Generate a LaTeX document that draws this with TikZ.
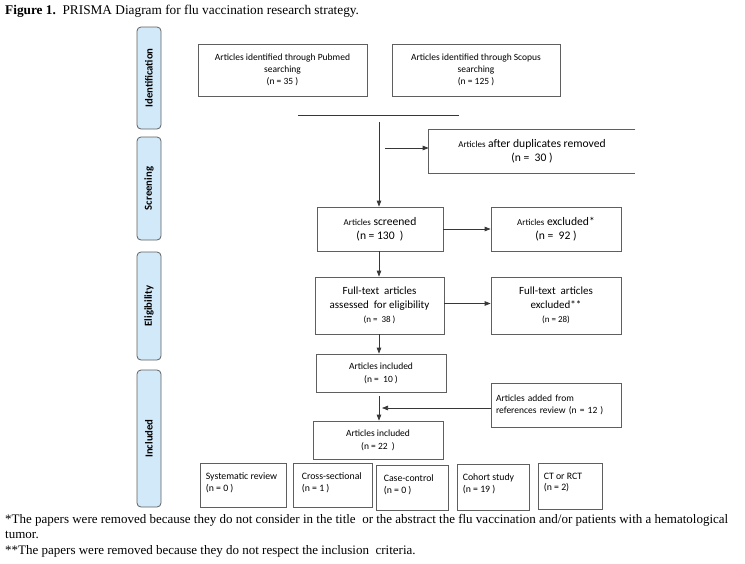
\documentclass[tikz,border=0pt]{standalone}
\usepackage{fontspec}
\setmainfont{Liberation Serif}
\newfontfamily\carlito{Carlito}
\usetikzlibrary{arrows.meta,calc}
\definecolor{stagefill}{RGB}{210,233,250}
\definecolor{stagedraw}{RGB}{95,95,95}
\definecolor{linegray}{RGB}{55,55,55}
\definecolor{boxgray}{RGB}{95,95,95}
\newcommand\lgtxt{\fontsize{11.6}{14}\selectfont}
\newcommand\smtxt{\fontsize{9}{12}\selectfont}
\begin{document}
\begin{tikzpicture}[x=1pt,y=-1pt,
  box/.style={draw=boxgray, line width=0.75pt, align=center, inner sep=2pt, font=\carlito\fontsize{9.5}{12}\selectfont},
  stage/.style={draw=stagedraw, line width=0.8pt, fill=stagefill, rounded corners=4pt, rotate=90, minimum height=24pt, inner sep=0pt, font=\carlito\bfseries\fontsize{10.7}{12}\selectfont},
  flow/.style={draw=linegray, line width=0.75pt, -{Triangle[length=6pt,width=4.5pt]}},
  plain/.style={draw=linegray, line width=0.75pt},
  small/.style={draw=boxgray, line width=0.75pt, label distance=0pt},
  inlab/.style={anchor=north west, align=left, inner sep=0pt, xshift=6pt, yshift=-10pt, font=\carlito\fontsize{9.8}{11.5}\selectfont}
]
\useasboundingbox (0,0) rectangle (745,563);

% title
\node[anchor=north west, inner sep=0pt, font=\fontsize{13.3}{15}\selectfont] (title) at (5,5)
  {\textbf{Figure 1.}\ \ PRISMA Diagram for flu vaccination research strategy.};

% stage labels
\node[stage, minimum width=102pt] (sid) at (149,78) {Identification};
\node[stage, minimum width=103pt] (ssc) at (149,188.5) {Screening};
\node[stage, minimum width=108pt] (sel) at (149,306) {Eligibility};
\node[stage, minimum width=137pt] (sin) at (149,438.5) {Included};

% boxes
\node[box, minimum width=169pt, minimum height=52pt] (pubmed) at (282.5,70)
  {Articles identified through Pubmed\\searching\\(n = 35 )};
\node[box, minimum width=168pt, minimum height=52pt] (scopus) at (476,70)
  {Articles identified through Scopus\\searching\\(n = 125 )};
\node[box, draw=none, minimum width=206pt, minimum height=43pt, font=\carlito\lgtxt] (dup) at (532,151.5)
  {{\smtxt Articles} after duplicates\ removed\\(n =\ \ 30 )};
\draw[draw=boxgray, line width=0.75pt] (dup.north east) -- (dup.north west) -- (dup.south west) -- (dup.south east);

\node[box, minimum width=126pt, minimum height=44pt, font=\carlito\lgtxt] (screened) at (380,229)
  {{\smtxt Articles} screened\\(n = 130\ \ )};
\node[box, minimum width=130pt, minimum height=44pt, font=\carlito\lgtxt] (excl) at (556,229)
  {{\smtxt Articles} excluded*\\(n =\ \ 92 )};
\node[box, minimum width=129pt, minimum height=57pt, font=\carlito\fontsize{11}{14}\selectfont] (fulltext) at (379.5,305.5)
  {Full-text\ \ articles\\assessed\ \ for eligibility\\{\smtxt (n =\ \ 38 )}};
\node[box, minimum width=130pt, minimum height=57pt, font=\carlito\fontsize{11}{14}\selectfont] (ftexcl) at (556,305.5)
  {Full-text\ \ articles\\excluded**\\{\smtxt (n = 28)}};
\node[box, minimum width=130pt, minimum height=38pt, font=\carlito\fontsize{9.5}{13}\selectfont] (inc10) at (381,373)
  {Articles included\\(n =\ \ 10 )};
\node[box, minimum width=130pt, minimum height=44pt, align=left, text width=120pt, inner sep=4pt] (added) at (556,405)
  {Articles added from\\references review (n = 12 )};
\node[box, minimum width=130pt, minimum height=38pt, font=\carlito\fontsize{9.5}{13}\selectfont] (inc22) at (378,440)
  {Articles included\\(n = 22\ \ )};

% study type boxes
\node[small, minimum width=86pt, minimum height=44pt,
  label={[inlab]north west:Systematic review\\(n = 0 )}] (sysrev) at (243,485) {};
\node[small, minimum width=79pt, minimum height=44pt,
  label={[inlab, xshift=3pt]north west:Cross-sectional\\(n = 1 )}] (cross) at (332.5,485) {};
\node[small, minimum width=72pt, minimum height=45pt,
  label={[inlab, xshift=2pt]north west:Case-control\\(n = 0 )}] (casec) at (412,487.5) {};
\node[small, minimum width=72pt, minimum height=46pt,
  label={[inlab]north west:Cohort study\\(n = 19 )}] (cohort) at (493,487) {};
\node[small, minimum width=64pt, minimum height=46pt,
  label={[inlab]north west:CT or RCT\\(n = 2)}] (ct) at (570,486) {};

% connectors
\coordinate (m1) at (298,115);
\coordinate (m2) at (459,115);
\draw[plain] (m1) -- (m2);
\coordinate (v0) at (379,122);
\draw[flow] (v0) -- (v0 |- screened.north);
\coordinate (d0) at (385,148);
\draw[flow] (d0) -- (d0 -| dup.west);
\draw[flow] (screened.east) -- (excl.west);
\draw[flow] (screened.south -| v0) -- (fulltext.north -| v0);
\draw[flow] ([yshift=2pt]fulltext.east) -- ([yshift=2pt]ftexcl.west);
\draw[flow] (fulltext.south -| v0) -- (inc10.north -| v0);
\coordinate (i0) at ($(inc10.south -| v0)+(0,4)$);
\draw[flow] (i0) -- (inc22.north -| v0);
\coordinate (aj) at ($(v0 |- added.west)+(3,3)$);
\draw[flow] ([yshift=-3pt]added.west) -- (aj);

% footnotes
\node[anchor=north west, align=left, inner sep=0pt, font=\fontsize{13}{15.5}\selectfont] (fn) at (5,514)
  {*The papers were removed because they do not consider in the title\ \ or the abstract the flu vaccination and/or patients with a hematological\\
   tumor.\\
   **The papers were removed because they do not respect the inclusion\ \ criteria.};
\end{tikzpicture}
\end{document}
